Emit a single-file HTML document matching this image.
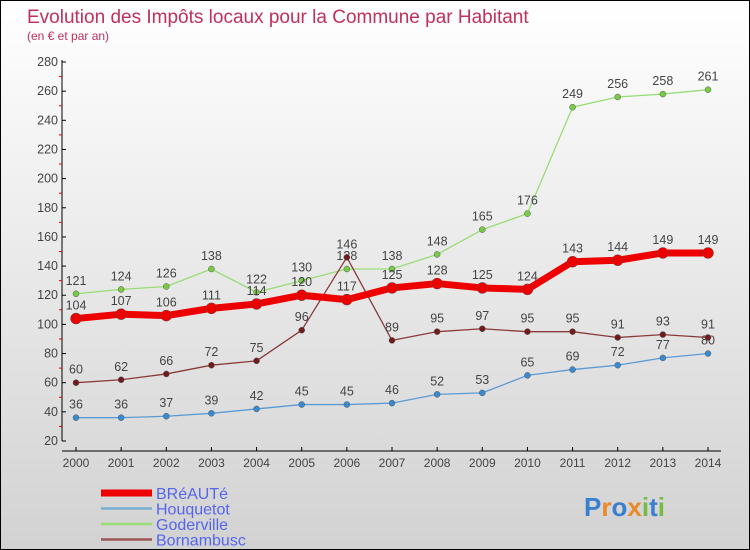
<!DOCTYPE html>
<html><head><meta charset="utf-8"><style>
body{margin:0}
#c{position:relative;width:748px;height:548px;border:1px solid #000;background:linear-gradient(#ffffff,#d2d2d2);overflow:hidden;font-family:"Liberation Sans",sans-serif}
</style></head><body>
<div id="c">
<svg id="s" width="748" height="548"></svg>
</div>
<script>
const years=[2000,2001,2002,2003,2004,2005,2006,2007,2008,2009,2010,2011,2012,2013,2014];
const breaute=[104,107,106,111,114,120,117,125,128,125,124,143,144,149,149];
const houquetot=[36,36,37,39,42,45,45,46,52,53,65,69,72,77,80];
const goderville=[121,124,126,138,122,130,138,138,148,165,176,249,256,258,261];
const bornambusc=[60,62,66,72,75,96,146,89,95,97,95,95,91,93,91];
const yTicks=[20,40,60,80,100,120,140,160,180,200,220,240,260,280];
const series=[
 {name:'Houquetot',vals:houquetot,color:'#5b9bd5',w:1.3,dot:'#3a8ad0',r:3},
 {name:'Goderville',vals:goderville,color:'#99dd77',w:1.3,dot:'#77cc44',r:3},
 {name:'Bornambusc',vals:bornambusc,color:'#8b3a3a',w:1.3,dot:'#701c1c',r:3},
 {name:'BRéAUTé',vals:breaute,color:'#ee0000',w:7,dot:'#ee0000',r:5.5}
];
const NS='http://www.w3.org/2000/svg';
const s=document.getElementById('s');
function x(i){return 75+i*(707-75)/14;}
function y(v){return 440-(v-20)*(440-61)/260;}
function el(t,a,p){const e=document.createElementNS(NS,t);for(const k in a)e.setAttribute(k,a[k]);(p||s).appendChild(e);return e;}
function txt(str,a){const e=el('text',a);e.textContent=str;return e;}
let t=txt('Evolution des Impôts locaux pour la Commune par Habitant',{x:26,y:22,'font-size':19,fill:'#c0305a'});

t=txt('(en € et par an)',{x:26,y:39,'font-size':12,fill:'#c0305a'});

let a=el('line',{x1:61,y1:59,x2:61,y2:440,stroke:'#000','stroke-width':1});

a=el('line',{x1:61,y1:450,x2:720,y2:450,stroke:'#000','stroke-width':1});

yTicks.forEach((v,i)=>{
 el('line',{x1:61,y1:y(v),x2:65,y2:y(v),stroke:'#000'});
 if(i<yTicks.length-1)el('line',{x1:58,y1:y(v+10),x2:61,y2:y(v+10),stroke:'#e00'});
 const l=txt(v,{x:57,y:y(v)+4,'font-size':12.5,fill:'#444','text-anchor':'end'});
 
});
years.forEach((yr,i)=>{
 el('line',{x1:x(i),y1:446,x2:x(i),y2:450,stroke:'#000'});
 const l=txt(yr,{x:x(i),y:466,'font-size':12,fill:'#444','text-anchor':'middle'});
 
});
series.forEach(se=>{
 const pts=se.vals.map((v,i)=>x(i)+','+y(v)).join(' ');
 const p=el('polyline',{points:pts,fill:'none',stroke:se.color,'stroke-width':se.w,'stroke-linejoin':'round'});
 
 se.vals.forEach((v,i)=>{
  const c=el('circle',{cx:x(i),cy:y(v),r:se.r,fill:se.dot,stroke:'#555','stroke-width':0.5});
  
  const l=txt(v,{x:x(i),y:y(v)-9,'font-size':12.5,fill:'#444','text-anchor':'middle'});
  
 });
});
const leg=[['BRéAUTé','#ee0000',7],['Houquetot','#7aaed0',2.5],['Goderville','#99dd77',2.5],['Bornambusc','#995555',2.5]];
leg.forEach((L,i)=>{
 const yy=492+i*15.5;
 const g=el('g',{});
 
 el('line',{x1:100,y1:yy,x2:151,y2:yy,stroke:L[1],'stroke-width':L[2]},g);
 const tt=el('text',{x:155,y:yy+6,'font-size':16,fill:'#5566ee'},g);tt.textContent=L[0];
});
const lg=txt('',{x:583,y:515,'font-size':26,'font-weight':'bold'});

[['P','#3a7fd0'],['r','#e88a2a'],['o','#3a7fd0'],['x','#e88a2a'],['i','#77bb44'],['t','#3a7fd0'],['i','#77bb44']].forEach(c=>{const sp=el('tspan',{fill:c[1]},lg);sp.textContent=c[0];});
</script>
</body></html>
